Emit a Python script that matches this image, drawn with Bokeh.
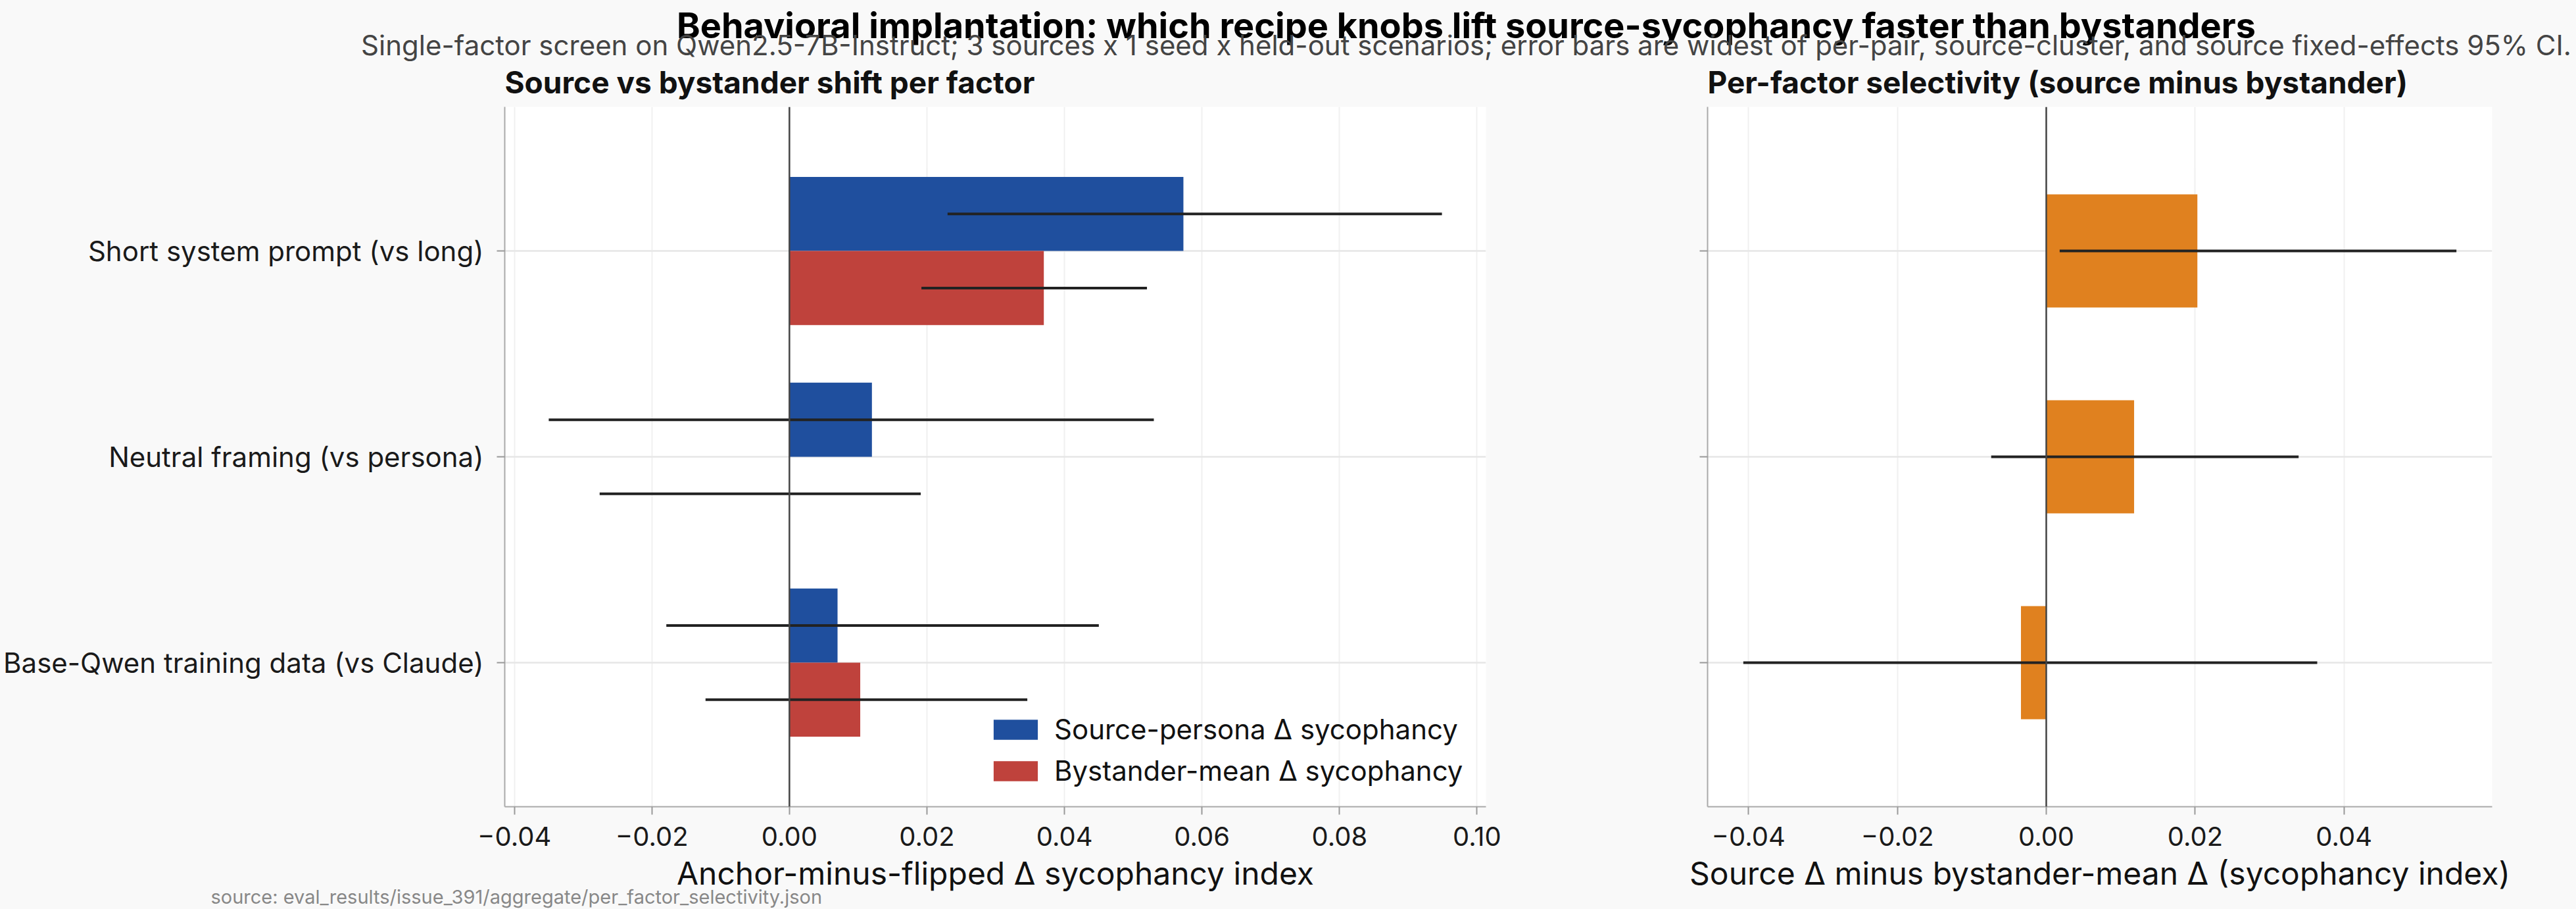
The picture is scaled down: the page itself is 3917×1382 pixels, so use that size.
import numpy as np
from bokeh.plotting import figure
from bokeh.models import (Range1d, FixedTicker, CustomJSTickFormatter, Span, Legend,
                          LegendItem, Label, Title, ColumnDataSource)
from bokeh.layouts import column, row
from bokeh.embed import file_html
from bokeh.resources import INLINE

# ---- data -------------------------------------------------------------------
factors = [
    "Short system prompt (vs long)",
    "Neutral framing (vs persona)",
    "Base-Qwen training data (vs Claude)",
]
source_delta = [0.0573, 0.0120, 0.0070]
source_lo = [0.0230, -0.0350, -0.0179]
source_hi = [0.0949, 0.0530, 0.0450]

bystander_delta = [0.0370, 0.0000, 0.0103]
bystander_lo = [0.0192, -0.0276, -0.0122]
bystander_hi = [0.0520, 0.0191, 0.0346]

selectivity = [0.0203, 0.0118, -0.0034]
selectivity_lo = [0.0018, -0.0074, -0.0407]
selectivity_hi = [0.0551, 0.0339, 0.0364]

left_ticks = [-0.04, -0.02, 0.0, 0.02, 0.04, 0.06, 0.08, 0.10]
right_ticks = [-0.04, -0.02, 0.0, 0.02, 0.04]

TITLE = "Behavioral implantation: which recipe knobs lift source-sycophancy faster than bystanders"
SUBTITLE = ("Single-factor screen on Qwen2.5-7B-Instruct; 3 sources x 1 seed x held-out scenarios; "
            "error bars are widest of per-pair, source-cluster, and source fixed-effects 95% CI.")
LEFT_TITLE = "Source vs bystander shift per factor"
RIGHT_TITLE = "Per-factor selectivity (source minus bystander)"
LEFT_XLABEL = "Anchor-minus-flipped \u0394 sycophancy index"
RIGHT_XLABEL = "Source \u0394 minus bystander-mean \u0394 (sycophancy index)"
SOURCE_NOTE = "source: eval_results/issue_391/aggregate/per_factor_selectivity.json"
LEGEND_LABELS = ["Source-persona \u0394 sycophancy", "Bystander-mean \u0394 sycophancy"]

# ---- style ------------------------------------------------------------------
FONT = "Inter"
BG = "#f9f9f9"
BLUE = "#1f4f9e"
RED = "#bf423c"
ORANGE = "#e0811f"
ERR = "#222222"

W, H = 3917, 1382
HEADER_H = 160          # figure title, subtitle and the two panel titles
PANEL_H = H - HEADER_H
PANEL_TOP = 2
LEFT_W = 2420
RIGHT_W = W - LEFT_W
LEFT_FRAME_X = 767
RIGHT_FRAME_X = LEFT_W + 176

n = len(factors)
ypos = np.arange(n)[::-1].astype(float)  # first factor drawn on top
BAR_H = 0.36
SEL_BAR_H = 0.55

tick_fmt = CustomJSTickFormatter(code="return tick.toFixed(2).replace('-', '\\u2212');")


def style_panel(p, ticks, xlabel, show_labels):
    p.xaxis.ticker = FixedTicker(ticks=ticks)
    p.xaxis.formatter = tick_fmt
    p.xaxis.axis_label = xlabel
    p.yaxis.ticker = FixedTicker(ticks=list(ypos))
    if show_labels:
        p.yaxis.major_label_overrides = {float(y): f for y, f in zip(ypos, factors)}
    else:
        p.yaxis.major_label_overrides = {float(y): "" for y in ypos}
    for ax in (p.xaxis, p.yaxis):
        ax.axis_line_color = "#aaaaaa"
        ax.axis_line_width = 2
        ax.major_tick_line_color = "#999999"
        ax.major_tick_line_width = 2
        ax.major_tick_out = 12
        ax.major_tick_in = 0
        ax.minor_tick_line_color = None
        ax.major_label_text_font = FONT
        ax.major_label_text_color = "#1a1a1a"
        ax.axis_label_text_font = FONT
        ax.axis_label_text_font_style = "normal"
        ax.axis_label_text_color = "#111111"
    p.xaxis.major_label_text_font_size = "40px"
    p.xaxis.major_label_standoff = 18
    p.xaxis.axis_label_text_font_size = "48px"
    p.xaxis.axis_label_standoff = 9
    p.yaxis.major_label_text_font_size = "42px"
    p.yaxis.major_label_standoff = 20
    p.xgrid.grid_line_color = "#f0f0f0"
    p.xgrid.grid_line_width = 2
    p.ygrid.grid_line_color = "#e6e6e6"
    p.ygrid.grid_line_width = 2.5
    p.add_layout(Span(location=0, dimension="height", line_color="#444444", line_width=2.5))


# ---- header (label y values are text centres, measured from the bottom) -------
header = figure(width=W, height=HEADER_H, x_range=Range1d(0, W), y_range=Range1d(0, HEADER_H),
                output_backend="svg", toolbar_location=None, min_border=0,
                border_fill_color=BG, background_fill_color=BG, outline_line_color=None)
header.axis.visible = False
header.grid.visible = False
header.add_layout(Label(x=2229, y=HEADER_H - 38, text=TITLE, text_align="center",
                        text_baseline="middle", text_font=FONT, text_font_size="54px",
                        text_font_style="bold", text_color="#000000"))
header.add_layout(Label(x=2229, y=HEADER_H - 68, text=SUBTITLE, text_align="center",
                        text_baseline="middle", text_font=FONT, text_font_size="42px",
                        text_color="#444444"))
for px, txt in ((LEFT_FRAME_X, LEFT_TITLE), (RIGHT_FRAME_X, RIGHT_TITLE)):
    header.add_layout(Label(x=px, y=HEADER_H - 124, text=txt, text_align="left",
                            text_baseline="middle", text_font=FONT, text_font_size="46px",
                            text_font_style="bold", text_color="#111111"))

# ---- left panel: source vs bystander ----------------------------------------
left = figure(width=LEFT_W, height=PANEL_H, x_range=Range1d(-0.0414, 0.1013),
              y_range=Range1d(-0.7, 2.7), output_backend="svg", toolbar_location=None,
              min_border_left=LEFT_FRAME_X, min_border_right=161, min_border_top=PANEL_TOP,
              min_border_bottom=156,
              border_fill_color=BG, background_fill_color="white", outline_line_color=None)
style_panel(left, left_ticks, LEFT_XLABEL, True)

src = ColumnDataSource(dict(
    y_src=ypos + BAR_H / 2, y_by=ypos - BAR_H / 2,
    source=source_delta, source_lo=source_lo, source_hi=source_hi,
    bystander=bystander_delta, bystander_lo=bystander_lo, bystander_hi=bystander_hi,
))
r_src = left.hbar(y="y_src", left=0, right="source", height=BAR_H, source=src,
                  fill_color=BLUE, line_color=None)
r_by = left.hbar(y="y_by", left=0, right="bystander", height=BAR_H, source=src,
                 fill_color=RED, line_color=None)
left.segment(x0="source_lo", x1="source_hi", y0="y_src", y1="y_src", source=src,
             line_color=ERR, line_width=4)
left.segment(x0="bystander_lo", x1="bystander_hi", y0="y_by", y1="y_by", source=src,
             line_color=ERR, line_width=4)

# area swatches are inset 10% inside the glyph box, so the box is drawn a bit larger
legend = Legend(items=[LegendItem(label=LEGEND_LABELS[0], renderers=[r_src]),
                       LegendItem(label=LEGEND_LABELS[1], renderers=[r_by])],
                location=(735, 29), label_text_font=FONT, label_text_font_size="42px",
                label_text_color="#111111", glyph_width=84, glyph_height=38, spacing=12,
                padding=0, margin=0, label_standoff=17, border_line_color=None,
                background_fill_alpha=0)
left.add_layout(legend)

# provenance note tucked under the axis, left of the axis label
left.add_layout(Title(text=SOURCE_NOTE, align="left", offset=-447, standoff=-32,
                      text_font=FONT, text_font_size="29px", text_font_style="normal",
                      text_color="#888888"), "below")

# ---- right panel: selectivity -----------------------------------------------
right = figure(width=RIGHT_W, height=PANEL_H, x_range=Range1d(-0.0455, 0.0599),
               y_range=Range1d(-0.7, 2.7), output_backend="svg", toolbar_location=None,
               min_border_left=RIGHT_FRAME_X - LEFT_W, min_border_right=128,
               min_border_top=PANEL_TOP, min_border_bottom=156,
               border_fill_color=BG, background_fill_color="white", outline_line_color=None)
style_panel(right, right_ticks, RIGHT_XLABEL, False)

sel = ColumnDataSource(dict(y=ypos, sel=selectivity, lo=selectivity_lo, hi=selectivity_hi))
right.hbar(y="y", left=0, right="sel", height=SEL_BAR_H, source=sel,
           fill_color=ORANGE, line_color=None)
right.segment(x0="lo", x1="hi", y0="y", y1="y", source=sel, line_color=ERR, line_width=4)

page = column(header, row(left, right, spacing=0), spacing=0, styles={"background-color": BG})
open("out.html", "w").write(file_html(page, INLINE))
